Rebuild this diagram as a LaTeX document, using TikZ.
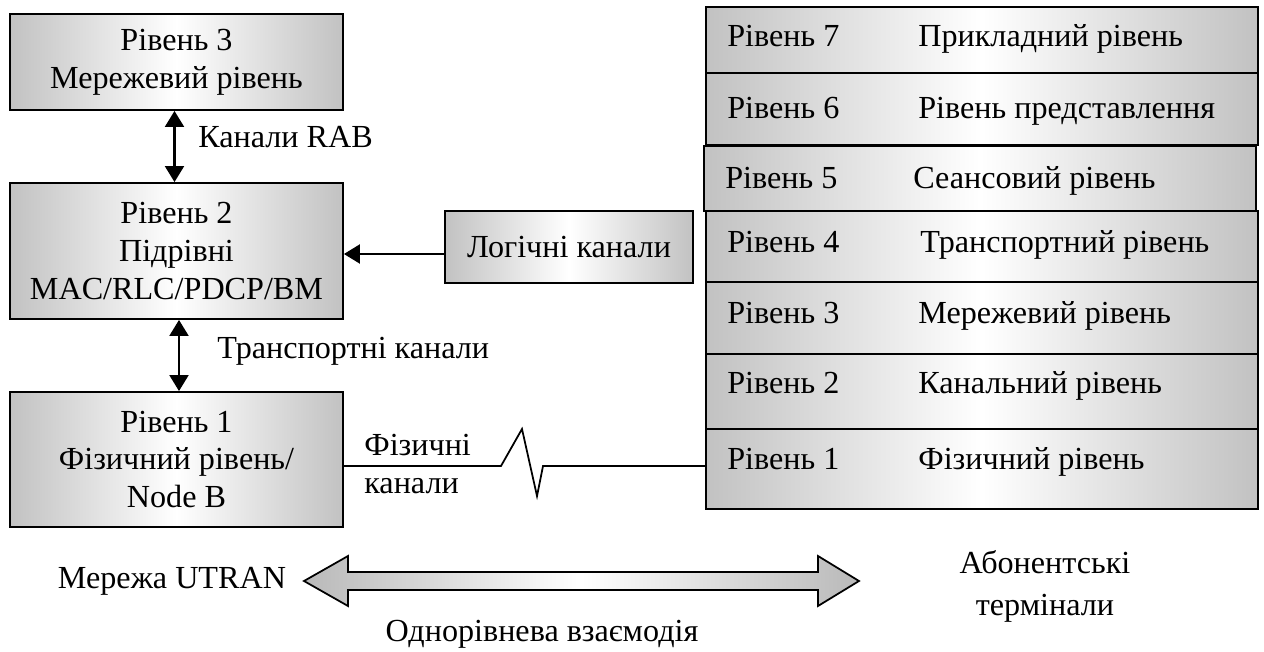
\documentclass[tikz,border=0pt]{standalone}
\usepackage{fontspec}
\setmainfont{Liberation Serif}
\usetikzlibrary{arrows.meta,calc}
\begin{document}
\begin{tikzpicture}[x=0.02cm,y=-0.02cm,
  every node/.style={font=\fontsize{18.3}{21.6}\selectfont,inner sep=0pt},
  panel/.style={draw=black,line width=1.1pt,left color=gray!48,right color=gray!48,middle color=white,align=center},
  layer/.style={panel,minimum width=11.04cm},
  lbl/.style={anchor=base west},
  txt/.style={anchor=base},
  link/.style={line width=1.2pt},
  dblarrow/.style={link,{Triangle[width=0.38cm,length=0.32cm]}-{Triangle[width=0.38cm,length=0.32cm]}},
  onearrow/.style={link,-{Triangle[width=0.38cm,length=0.32cm]}}]
  \useasboundingbox (0,0) rectangle (1264,652);

  % UTRAN side: protocol levels
  \node[panel,minimum width=6.66cm,minimum height=1.92cm] (L3) at (176.5,62)
    {\raisebox{-0.1cm}{\begin{tabular}{@{}c@{}}Рівень 3\\Мережевий рівень\end{tabular}}};
  \node[panel,minimum width=6.66cm,minimum height=2.72cm] (L2) at (176.5,251)
    {Рівень 2\\Підрівні\\MAC/RLC/PDCP/BM};
  \node[panel,minimum width=6.66cm,minimum height=2.70cm] (L1) at (176.5,459.5)
    {Рівень 1\\Фізичний рівень/\\Node B};
  \node[panel,minimum width=4.96cm,minimum height=1.44cm] (logic) at (569,247)
    {Логічні канали};

  \draw[dblarrow] (L3.south) ++(-2,0) coordinate (a3) -- (a3 |- L2.north);
  \node[lbl] (rab) at (198,148) {Канали RAB};
  \draw[dblarrow] (L2.south) ++(2.5,0) coordinate (a2) -- (a2 |- L1.north);
  \node[lbl] (trc) at (217,358) {Транспортні канали};
  \draw[onearrow] ($(logic.west)+(0,7)$) coordinate (la) -- (la -| L2.east);

  % terminal side: seven-level stack
  \node[layer,minimum height=1.32cm] (r7) at (982,40) {};
  \node[layer,minimum height=1.44cm] (r6) at (982,109) {};
  \node[layer,minimum height=1.30cm] (r5) at (980,178.5) {};
  \node[layer,minimum height=1.42cm] (r4) at (982,246.5) {};
  \node[layer,minimum height=1.44cm] (r3) at (982,318) {};
  \node[layer,minimum height=1.50cm] (r2) at (982,391.5) {};
  \node[layer,minimum height=1.60cm] (r1) at (982,469) {};

  \node[lbl] (n7) at (727,47) {Рівень 7};
  \node[lbl] (t7) at (918,47) {Прикладний рівень};
  \node[lbl] (n6) at (727,118) {Рівень 6};
  \node[lbl] (t6) at (918,118) {Рівень представлення};
  \node[lbl] (n5) at (725,188) {Рівень 5};
  \node[lbl] (t5) at (913,188) {Сеансовий рівень};
  \node[lbl] (n4) at (727,252) {Рівень 4};
  \node[lbl] (t4) at (920,252) {Транспортний рівень};
  \node[lbl] (n3) at (727,323) {Рівень 3};
  \node[lbl] (t3) at (918,323) {Мережевий рівень};
  \node[lbl] (n2) at (727,393) {Рівень 2};
  \node[lbl] (t2) at (918,393) {Канальний рівень};
  \node[lbl] (n1) at (727,469) {Рівень 1};
  \node[lbl] (t1) at (918,469) {Фізичний рівень};

  % physical channel with the radio zigzag
  \coordinate (zy) at (0,466);
  \coordinate (z1) at (501,466);
  \coordinate (z2) at (522,429);
  \coordinate (z3) at (537,496);
  \coordinate (z4) at (543,466);
  \draw[line width=1pt,line join=miter] (L1.east |- zy) -- (z1) -- (z2) -- (z3) -- (z4) -- (r1.west |- zy);
  \node[lbl] (phy1) at (364,455) {Фізичні};
  \node[lbl] (phy2) at (364,493) {канали};

  % peer-to-peer interaction
  \path[draw=black,line width=1pt,left color=gray!55,right color=gray!55,middle color=white]
    (304,581) -- (348,556) -- (348,572) -- (818,572) -- (818,556) -- (859,581)
    -- (818,606) -- (818,590) -- (348,590) -- (348,606) -- cycle;
  \node[txt] (utran) at (172,588) {Мережа UTRAN};
  \node[txt] (term1) at (1045,573) {Абонентські};
  \node[txt] (term2) at (1045,615) {термінали};
  \node[txt] (peer) at (542,641) {Однорівнева взаємодія};
\end{tikzpicture}
\end{document}
